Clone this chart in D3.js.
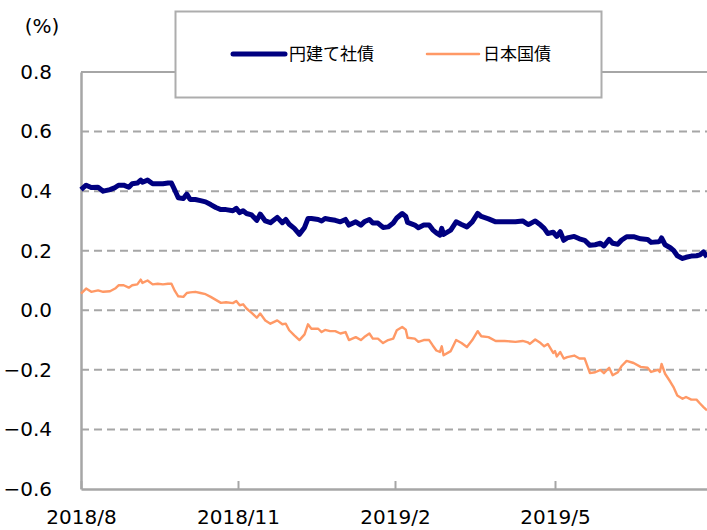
<!DOCTYPE html>
<html>
<head>
<meta charset="utf-8">
<script src="https://cdn.jsdelivr.net/npm/d3@7"></script>
<style>
  body { margin: 0; background: #fff; }
  svg { display: block; }
</style>
</head>
<body>
<div id="chart"></div>
<script>
// dates (x positions come from the time scale)
const dates = [
  "2018-08-01","2018-08-04","2018-08-07","2018-08-11","2018-08-14","2018-08-18","2018-08-21","2018-08-23",
  "2018-08-26","2018-08-29","2018-08-31","2018-09-03","2018-09-05","2018-09-06","2018-09-09","2018-09-12",
  "2018-09-15","2018-09-18","2018-09-21","2018-09-23","2018-09-25","2018-09-27","2018-09-30","2018-10-02",
  "2018-10-04","2018-10-07","2018-10-10","2018-10-13","2018-10-16","2018-10-19","2018-10-22","2018-10-25",
  "2018-10-29","2018-10-31","2018-11-02","2018-11-04","2018-11-06","2018-11-09","2018-11-12","2018-11-14",
  "2018-11-17","2018-11-20","2018-11-24","2018-11-27","2018-11-29","2018-12-01","2018-12-04","2018-12-07",
  "2018-12-10","2018-12-12","2018-12-14","2018-12-18","2018-12-20","2018-12-22","2018-12-25","2018-12-28",
  "2018-12-31","2019-01-03","2019-01-05","2019-01-09","2019-01-12","2019-01-14","2019-01-17","2019-01-19",
  "2019-01-22","2019-01-25","2019-01-28","2019-01-31","2019-02-02","2019-02-05","2019-02-07","2019-02-08",
  "2019-02-12","2019-02-14","2019-02-17","2019-02-20","2019-02-22","2019-02-24","2019-02-26","2019-02-27",
  "2019-02-28","2019-03-04","2019-03-07","2019-03-10","2019-03-13","2019-03-16","2019-03-19","2019-03-21",
  "2019-03-25","2019-03-29","2019-04-03","2019-04-09","2019-04-13","2019-04-16","2019-04-17","2019-04-20",
  "2019-04-23","2019-04-25","2019-04-27","2019-04-30","2019-05-01","2019-05-02","2019-05-04","2019-05-06",
  "2019-05-08","2019-05-12","2019-05-15","2019-05-18","2019-05-21","2019-05-24","2019-05-27","2019-05-29",
  "2019-06-01","2019-06-03","2019-06-06","2019-06-08","2019-06-11","2019-06-15","2019-06-19","2019-06-23",
  "2019-06-25","2019-06-29","2019-06-30","2019-07-01","2019-07-03","2019-07-06","2019-07-08","2019-07-10",
  "2019-07-13","2019-07-15","2019-07-18","2019-07-21","2019-07-23","2019-07-25","2019-07-27"
];

// 円建て社債
const corpYen = [
  0.405,0.420,0.412,0.413,0.400,0.405,0.412,0.420,
  0.420,0.413,0.425,0.427,0.437,0.430,0.437,0.425,
  0.425,0.425,0.427,0.427,0.403,0.378,0.375,0.390,
  0.372,0.372,0.368,0.364,0.355,0.345,0.338,0.338,
  0.334,0.342,0.328,0.334,0.325,0.320,0.302,0.323,
  0.300,0.294,0.312,0.294,0.305,0.289,0.275,0.255,
  0.278,0.308,0.308,0.305,0.300,0.308,0.305,0.302,
  0.297,0.305,0.286,0.297,0.286,0.297,0.305,0.293,
  0.293,0.278,0.280,0.293,0.310,0.325,0.315,0.295,
  0.286,0.277,0.286,0.286,0.270,0.260,0.252,0.275,
  0.255,0.269,0.297,0.288,0.280,0.297,0.325,0.315,
  0.307,0.297,0.297,0.297,0.300,0.288,0.290,0.300,
  0.286,0.275,0.258,0.262,0.255,0.248,0.264,0.235,
  0.243,0.248,0.240,0.235,0.218,0.220,0.225,0.216,
  0.238,0.225,0.222,0.235,0.247,0.247,0.240,0.238,
  0.228,0.230,0.232,0.243,0.220,0.210,0.200,0.183,
  0.174,0.178,0.182,0.183,0.186,0.196,0.179
];

// 日本国債
const jgb = [
  0.056,0.073,0.062,0.067,0.062,0.064,0.073,0.084,
  0.084,0.076,0.084,0.087,0.103,0.092,0.100,0.087,
  0.089,0.087,0.089,0.089,0.065,0.047,0.045,0.058,
  0.060,0.062,0.058,0.054,0.045,0.035,0.025,0.027,
  0.024,0.031,0.017,0.020,0.006,-0.009,-0.025,-0.011,
  -0.034,-0.045,-0.034,-0.047,-0.045,-0.067,-0.084,-0.100,
  -0.081,-0.047,-0.062,-0.062,-0.073,-0.066,-0.070,-0.070,
  -0.078,-0.073,-0.100,-0.090,-0.100,-0.090,-0.078,-0.095,
  -0.095,-0.110,-0.100,-0.095,-0.067,-0.056,-0.065,-0.092,
  -0.095,-0.106,-0.100,-0.100,-0.118,-0.135,-0.140,-0.121,
  -0.151,-0.137,-0.100,-0.110,-0.123,-0.100,-0.070,-0.087,
  -0.090,-0.103,-0.103,-0.106,-0.103,-0.108,-0.113,-0.098,
  -0.110,-0.121,-0.113,-0.143,-0.137,-0.155,-0.140,-0.162,
  -0.157,-0.152,-0.162,-0.162,-0.211,-0.208,-0.200,-0.211,
  -0.193,-0.218,-0.208,-0.188,-0.170,-0.177,-0.190,-0.193,
  -0.207,-0.200,-0.207,-0.180,-0.213,-0.240,-0.260,-0.286,
  -0.297,-0.291,-0.300,-0.300,-0.313,-0.325,-0.336
];

const seriesNames = ["円建て社債", "日本国債"];
const yTicks = [0.8, 0.6, 0.4, 0.2, 0.0, -0.2, -0.4, -0.6];
const xTickDates = ["2018-08-01", "2018-11-01", "2019-02-01", "2019-05-01"];
const xDomain = ["2018-08-01", "2018-11-01", "2019-02-01", "2019-05-01", "2019-07-27"];

const W = 707, H = 530;
const margin = {top: 72, right: 0, bottom: 41, left: 81};
const parse = d3.timeParse("%Y-%m-%d");

const svg = d3.select("#chart").append("svg")
    .attr("width", W)
    .attr("height", H);

// the category axis is not evenly spaced in the original, so a piecewise scale
const x = d3.scaleTime()
    .domain(xDomain.map(parse))
    .range([81, 238, 395, 555, 707]);

const y = d3.scaleLinear()
    .domain([-0.6, 0.8])
    .range([H - margin.bottom, margin.top]);

const grey = "#a6a6a6";
const font = "'DejaVu Sans', Verdana, sans-serif";

// gridlines
svg.append("g")
    .selectAll("line")
    .data(yTicks.filter(t => t > -0.6))
    .enter()
    .append("line")
    .attr("x1", x.range()[0])
    .attr("x2", W)
    .attr("y1", d => y(d))
    .attr("y2", d => y(d))
    .attr("stroke", grey)
    .attr("stroke-width", 2)
    .attr("stroke-dasharray", d => d === 0.8 ? null : "8,5");

// Y axis
const yAxis = svg.append("g")
    .attr("transform", `translate(${margin.left},0)`)
    .call(d3.axisLeft(y).tickValues(yTicks).tickSize(0).tickPadding(29)
        .tickFormat(d3.format(".1f")));
yAxis.select(".domain").attr("stroke", grey).attr("stroke-width", 2.5);
yAxis.selectAll("text")
    .style("font-family", font)
    .style("font-size", "20px")
    .attr("fill", "#000");

// X axis, ticks point up into the plot
const xAxis = svg.append("g")
    .attr("transform", `translate(0,${y(-0.6)})`)
    .call(d3.axisBottom(x).tickValues(xTickDates.map(parse)).tickSize(-8).tickSizeOuter(0)
        .tickPadding(21).tickFormat(d3.timeFormat("%Y/%-m")));
xAxis.select(".domain").attr("stroke", grey).attr("stroke-width", 2.5);
xAxis.selectAll(".tick line").attr("stroke", grey).attr("stroke-width", 2);
xAxis.selectAll("text")
    .style("font-family", font)
    .style("font-size", "20px")
    .attr("fill", "#000");

// unit label
svg.append("text")
    .attr("x", 42)
    .attr("y", 33)
    .attr("text-anchor", "middle")
    .style("font-family", font)
    .style("font-size", "20px")
    .text("(%)");

// lines
const line = d3.line()
    .x((d, i) => x(parse(dates[i])))
    .y(d => y(d));

svg.append("path")
    .datum(jgb)
    .attr("d", line)
    .attr("fill", "none")
    .attr("stroke", "#ff9966")
    .attr("stroke-width", 2.4)
    .attr("stroke-linejoin", "round");

svg.append("path")
    .datum(corpYen)
    .attr("d", line)
    .attr("fill", "none")
    .attr("stroke", "#000080")
    .attr("stroke-width", 5)
    .attr("stroke-linejoin", "round");

// legend
const legend = svg.append("g");
legend.append("rect")
    .attr("x", 175.5).attr("y", 11.5)
    .attr("width", 426).attr("height", 86)
    .attr("fill", "#fff")
    .attr("stroke", "#adadad")
    .attr("stroke-width", 2);

const legendItems = [
    {name: seriesNames[0], color: "#000080", width: 5, x: 233},
    {name: seriesNames[1], color: "#ff9966", width: 2.5, x: 427}
];
legendItems.forEach(d => {
    legend.append("line")
        .attr("x1", d.x).attr("x2", d.x + 52)
        .attr("y1", 54).attr("y2", 54)
        .attr("stroke", d.color)
        .attr("stroke-width", d.width)
        .attr("stroke-linecap", "round");
    legend.append("text")
        .attr("x", d.x + 56)
        .attr("y", 60)
        .style("font-family", "'Noto Sans CJK JP', sans-serif")
        .style("font-size", "17px")
        .text(d.name);
});
</script>
</body>
</html>
